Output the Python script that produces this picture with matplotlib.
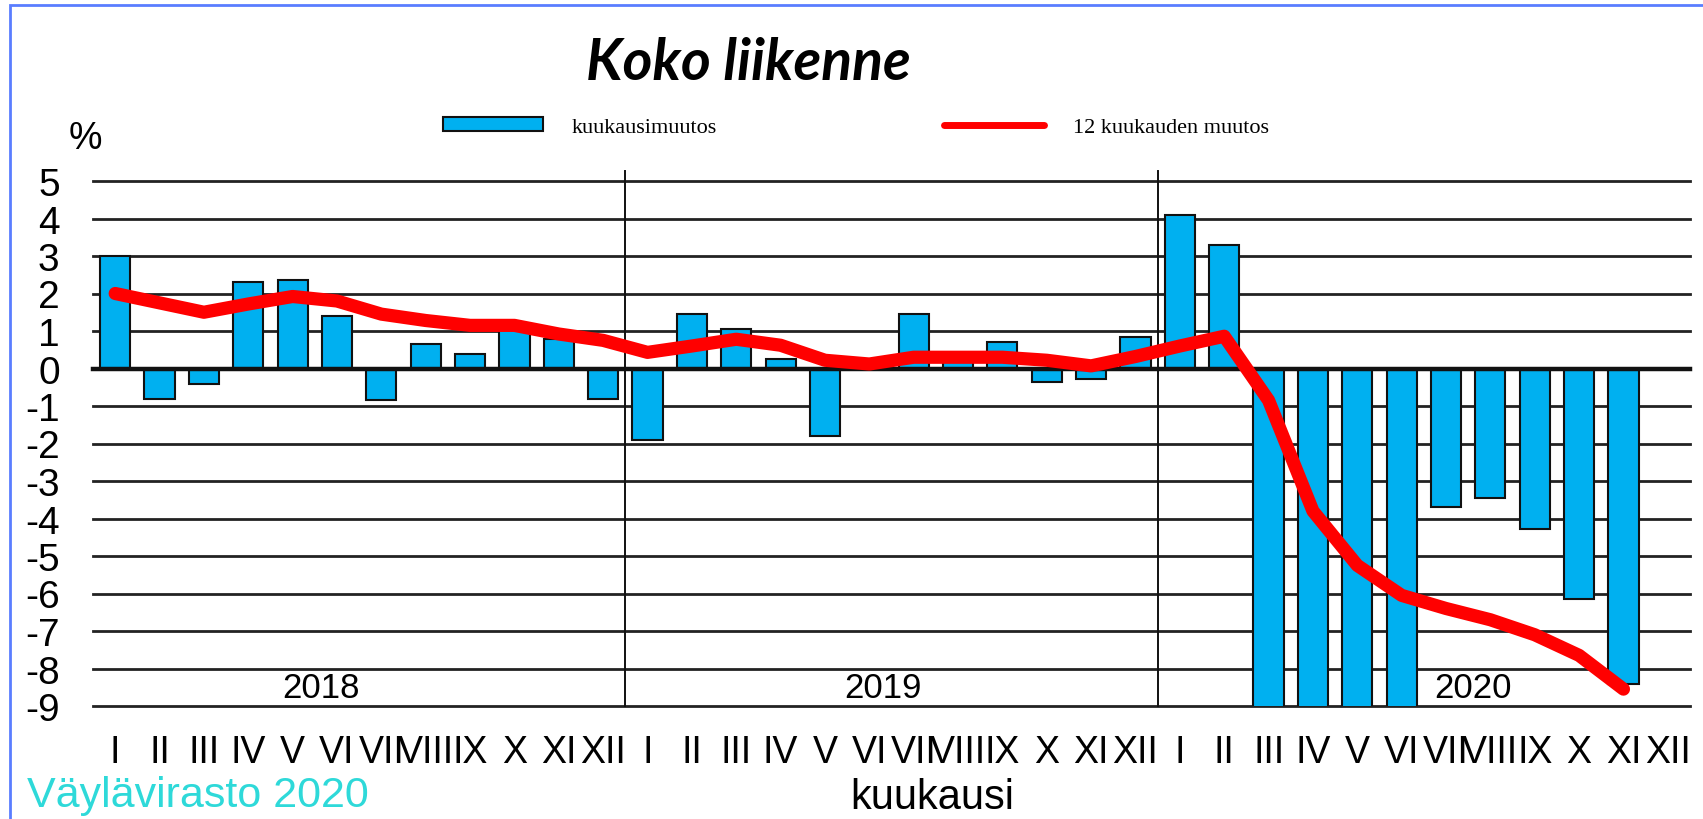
import numpy as np
import matplotlib
matplotlib.use("Agg")
import matplotlib.pyplot as plt
from matplotlib.patches import Rectangle, Patch
from matplotlib.lines import Line2D

plt.rcParams['font.family'] = ['Liberation Sans', 'DejaVu Sans']

# ---- data ----
months = ["I", "II", "III", "IV", "V", "VI", "VII", "VIII", "IX", "X", "XI", "XII"]
years = ["2018", "2019", "2020"]

monthly_2018 = [3.0, -0.8, -0.4, 2.3, 2.35, 1.4, -0.85, 0.65, 0.4, 1.05, 0.8, -0.8]
monthly_2019 = [-1.9, 1.45, 1.05, 0.25, -1.8, 0.1, 1.45, 0.2, 0.7, -0.35, -0.27, 0.85]
monthly_2020 = [4.1, 3.3, -20.0, -36.0, -26.0, -11.0, -3.7, -3.45, -4.28, -6.15, -8.4, np.nan]

rolling_2018 = [2.0, 1.75, 1.5, 1.72, 1.92, 1.8, 1.45, 1.28, 1.15, 1.15, 0.92, 0.75]
rolling_2019 = [0.43, 0.6, 0.78, 0.62, 0.22, 0.12, 0.3, 0.3, 0.3, 0.22, 0.07, 0.32]
rolling_2020 = [0.6, 0.86, -0.85, -3.8, -5.25, -6.05, -6.4, -6.7, -7.1, -7.65, -8.55, np.nan]

monthly = monthly_2018 + monthly_2019 + monthly_2020
rolling = rolling_2018 + rolling_2019 + rolling_2020
tick_labels = months * 3
year_label_pos = [4.65, 17.3, 30.6]

BAR_COLOR = '#00B0F0'
LINE_COLOR = '#FF0000'

# ---- figure ----
W, H = 1703, 820
fig = plt.figure(figsize=(W / 100, H / 100), dpi=100)
ax = fig.add_axes([93 / W, 1 - 707 / H, (1690 - 93) / W, (707 - 182) / H])

x = np.arange(len(monthly))
ax.set_xlim(-0.5, len(monthly) - 0.5)
ax.set_ylim(-9, 5)

# horizontal grid lines
for v in range(-9, 6):
    if v == 0:
        ax.axhline(v, color='#111111', lw=3.2, zorder=4, clip_on=False)
    else:
        ax.axhline(v, color='#222222', lw=2.0, zorder=1, clip_on=False)

# year separators
for k in range(1, len(years)):
    ax.axvline(12 * k - 0.5, ymin=0, ymax=1.02, color='#111111', lw=1.4,
               zorder=2, clip_on=False)

ax.bar(x, monthly, width=0.68, color=BAR_COLOR, edgecolor='#111111',
       linewidth=1.5, zorder=3)
ax.plot(x, rolling, color=LINE_COLOR, lw=9.5, solid_capstyle='round',
        solid_joinstyle='round', zorder=5)

for pos, yr in zip(year_label_pos, years):
    ax.text(pos, -8.5, yr, ha='center', va='center', fontsize=25, zorder=6)

ax.set_xticks(x)
ax.set_xticklabels(tick_labels)
yt = list(range(-9, 6))
ax.set_yticks(yt)
ax.set_yticklabels([str(v) for v in yt])
ax.tick_params(axis='x', length=0, pad=20, labelsize=27)
ax.tick_params(axis='y', length=0, pad=24, labelsize=28)
for s in ax.spines.values():
    s.set_visible(False)

# texts
fig.text(748 / W, 1 - 64 / H, 'Koko liikenne', family=['Lato', 'DejaVu Sans'],
         fontweight='bold', style='italic', fontsize=41, ha='center', va='center')
fig.text(85 / W, 1 - 139 / H, '%', fontsize=27, ha='center', va='center')
fig.text(932 / W, 1 - 798 / H, 'kuukausi', fontsize=30, ha='center', va='center')
fig.text(27 / W, 1 - 796 / H, 'Väylävirasto 2020', fontsize=31, ha='left',
         va='center', color='#2ED9D9')

# legend
handles = [Patch(facecolor=BAR_COLOR, edgecolor='#111111', linewidth=1.5),
           Line2D([0], [0], color=LINE_COLOR, lw=5, solid_capstyle='round')]
fig.legend(handles, ['kuukausimuutos', '12 kuukauden muutos'],
           loc='center left', bbox_to_anchor=(443 / W, 1 - 128 / H),
           ncol=2, frameon=False, borderaxespad=0, borderpad=0,
           handlelength=4.5, handleheight=0.6, handletextpad=1.3,
           columnspacing=10.2,
           prop={'family': ['Liberation Serif', 'DejaVu Serif'], 'size': 16})

# outer border
fig.add_artist(Rectangle((10 / W, -0.1), 1.5, 1 - 6 / H + 0.1,
                         transform=fig.transFigure, fill=False,
                         edgecolor='#5A7DFF', lw=2.0))

fig.savefig('out.png', dpi=100)
